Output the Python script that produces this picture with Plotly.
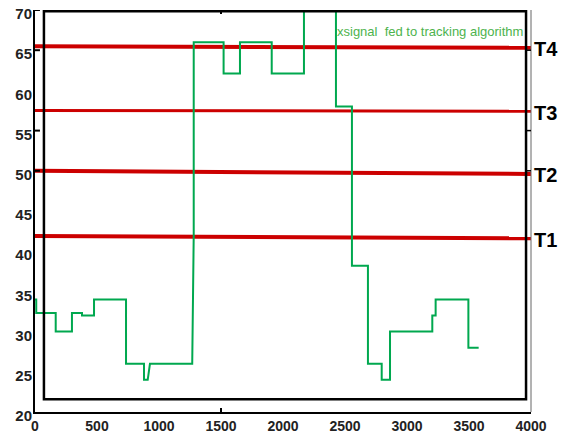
import plotly.graph_objects as go

# green step signal (vertices)
sig_x = [0, 10, 10, 167, 167, 298, 298, 379, 379, 476, 476, 734, 734, 879, 879, 909, 927, 1268,
         1280, 1280, 1521, 1521, 1653, 1653, 1909, 1909, 2169, 2169, 2427, 2427, 2556, 2556,
         2685, 2685, 2796, 2796, 2863, 2863, 3204, 3204, 3231, 3231, 3495, 3495, 3578]
sig_y = [34, 34, 32.3, 32.3, 30, 30, 32.3, 32.3, 32, 32, 34, 34, 26, 26, 24, 24, 26, 26,
         42, 66, 66, 62.1, 62.1, 66, 66, 62.1, 62.1, 75, 75, 58, 58, 38.2,
         38.2, 26, 26, 24, 24, 30, 30, 32, 32, 34, 34, 28, 28]

# thresholds
thr_names = ["T1", "T2", "T3", "T4"]
thr_start = [41.9, 50.0, 57.5, 65.5]
thr_end = [41.6, 49.6, 57.4, 65.3]
thr_x = [0, 4020]
thr_width = [4, 4, 3, 4]

x_ticks = [0, 500, 1000, 1500, 2000, 2500, 3000, 3500, 4000]
y_ticks = [20, 25, 30, 35, 40, 45, 50, 55, 60, 65, 70]

label_text = "xsignal  fed to tracking algorithm"

fig = go.Figure()

for n, a, b, w in zip(thr_names, thr_start, thr_end, thr_width):
    fig.add_trace(go.Scatter(x=thr_x, y=[a, b], mode="lines",
                             line=dict(color="#CC0000", width=w), showlegend=False,
                             hoverinfo="skip"))
    fig.add_annotation(x=1, xref="paper", xanchor="left", xshift=1, y=(a + b) / 2 - 0.3,
                       yref="y", text=n, showarrow=False,
                       font=dict(family="Liberation Sans, Arial", size=20, color="black",
                                 weight="bold"),
                       yanchor="middle")

fig.add_trace(go.Scatter(x=sig_x, y=sig_y, mode="lines",
                         line=dict(color="#00A84F", width=2), showlegend=False))

fig.add_annotation(x=2419, y=67.3, xanchor="left", yanchor="middle", text=label_text,
                   showarrow=False,
                   font=dict(family="Liberation Sans, Arial", size=13, color="#4DB34D"))

# inner frame
fig.add_shape(type="rect", xref="x", yref="y", x0=72, x1=3960, y0=21.6, y1=69.83,
              line=dict(color="black", width=2.5))
# right thin border
fig.add_shape(type="line", xref="paper", yref="paper", x0=1, x1=1, y0=0, y1=1,
              line=dict(color="#666666", width=1))

# small tick marks
tick_left = [70, 65, 55, 50]
for v in tick_left:
    fig.add_shape(type="line", xref="x", yref="y", x0=0, x1=40, y0=v, y1=v,
                  line=dict(color="black", width=2))
tick_right = [65, 55, 50]
for v in tick_right:
    fig.add_shape(type="line", xref="x", yref="y", x0=3960, x1=4000, y0=v, y1=v,
                  line=dict(color="black", width=1.5))
for yy in [(20, 20.5), (70, 69.5)]:
    fig.add_shape(type="line", xref="x", yref="y", x0=1500, x1=1500, y0=yy[0], y1=yy[1],
                  line=dict(color="black", width=2))

fig.update_layout(
    width=561, height=428,
    margin=dict(l=27, r=38, t=2, b=24, autoexpand=False),
    paper_bgcolor="white", plot_bgcolor="white",
    xaxis=dict(range=[0, 4000], tickvals=x_ticks, ticks="", showgrid=False, zeroline=False,
               showline=True, linecolor="black", linewidth=2, automargin=False,
               ticklabeloverflow="allow",
               tickfont=dict(family="Liberation Sans, Arial", size=14, color="#222222",
                             weight="bold")),
    yaxis=dict(range=[20, 70], tickvals=y_ticks, ticks="", showgrid=False, zeroline=False,
               showline=True, linecolor="black", linewidth=2, automargin=False,
               ticklabeloverflow="allow", ticklabelshift=4, ticklabelstandoff=-2,
               tickfont=dict(family="Liberation Sans, Arial", size=15, color="#222222",
                             weight="bold")),
    font=dict(family="Liberation Sans, Arial"),
)

fig.write_html("out.html")
